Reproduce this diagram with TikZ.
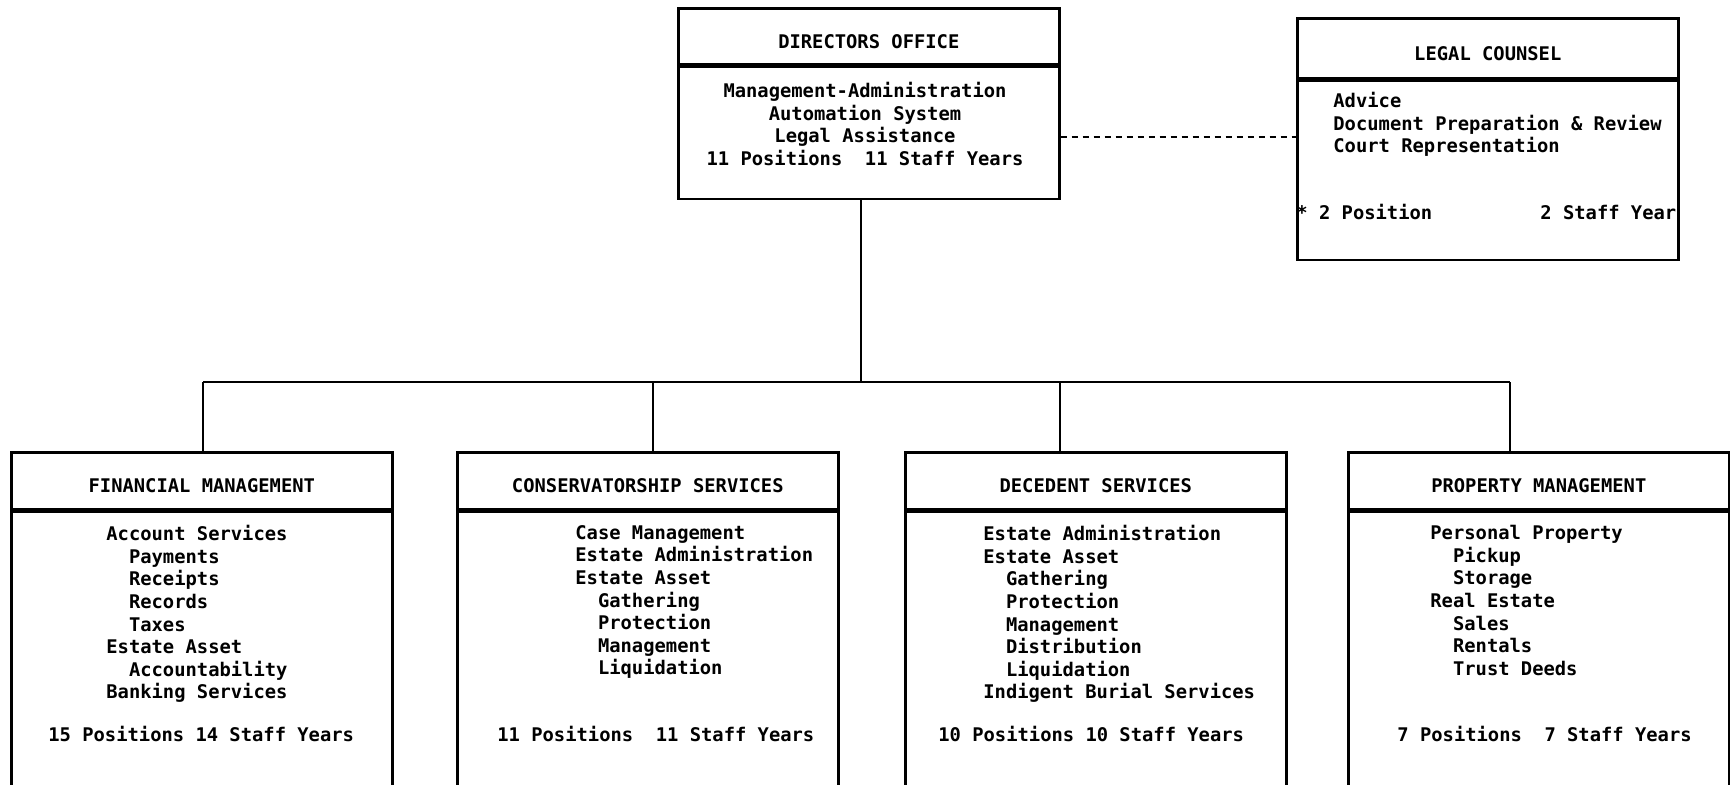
\documentclass[tikz,border=0pt]{standalone}
\usepackage{fontspec}
\newfontfamily\plotfont{DejaVu Sans Mono}
\usetikzlibrary{positioning}
\tikzstyle{head}=[draw, line width=1.3pt, minimum width=190.5pt,
    minimum height=28.5pt, text height=12pt, inner sep=0pt, anchor=north west]
\tikzstyle{body}=[draw, line width=1.3pt, minimum width=190.5pt,
    minimum height=137.5pt, inner sep=0pt]
\tikzstyle{items}=[align=left, inner sep=0pt, anchor=north west]
\tikzstyle{count}=[inner sep=0pt, anchor=west]
\tikzstyle{link}=[line width=1.2pt]
\tikzstyle{dotlink}=[line width=1pt, dash pattern=on 3pt off 2.5pt]
\def\ind{\phantom{xx}}

\begin{document}
\begin{tikzpicture}[x=0.5pt, y=-0.5pt,
    font=\plotfont\bfseries\fontsize{9.4}{11.3}\selectfont]
    \useasboundingbox (0,0) rectangle (1730,784);
    % directors office
    \node (dirh) [head, minimum height=28pt] at (677,7) {DIRECTORS OFFICE};
    \node (dirb) [body, below=0pt of dirh, minimum height=66pt] {};
    \node (dirtx) [align=center, inner sep=0pt, anchor=north] at (865,82)
        {Management-Administration\\Automation System\\Legal Assistance\\
        11 Positions~ 11 Staff Years};
    % legal counsel
    \node (legh) [head, minimum height=30pt] at (1296,17) {LEGAL COUNSEL};
    \node (legb) [body, below=0pt of legh, minimum height=89.5pt] {};
    \node (legtx) [items] at (1333,92)
        {Advice\\Document Preparation \& Review\\Court Representation};
    \node (legpos) [count] at (1296,212) {* 2 Position};
    \node (legsy) [count] at (1540,212) {2 Staff Year};
    % financial management
    \node (finh) [head] at (10,451) {FINANCIAL MANAGEMENT};
    \node (finb) [body, below=0pt of finh] {};
    \node (fintx) [items] at (106,525)
        {Account Services\\\ind Payments\\\ind Receipts\\\ind Records\\
        \ind Taxes\\Estate Asset\\\ind Accountability\\Banking Services};
    \node (finsy) [count] at (48,734) {15 Positions 14 Staff Years};
    % conservatorship services
    \node (conh) [head] at (456,451) {CONSERVATORSHIP SERVICES};
    \node (conb) [body, below=0pt of conh] {};
    \node (contx) [items] at (575,525)
        {Case Management\\Estate Administration\\Estate Asset\\
        \ind Gathering\\\ind Protection\\\ind Management\\\ind Liquidation};
    \node (consy) [count] at (497,734) {11 Positions~ 11 Staff Years};
    % decedent services
    \node (dech) [head] at (904,451) {DECEDENT SERVICES};
    \node (decb) [body, below=0pt of dech] {};
    \node (dectx) [items] at (983,525)
        {Estate Administration\\Estate Asset\\\ind Gathering\\\ind Protection\\
        \ind Management\\\ind Distribution\\\ind Liquidation\\
        Indigent Burial Services};
    \node (decsy) [count] at (938,734) {10 Positions 10 Staff Years};
    % property management
    \node (proh) [head] at (1347,451) {PROPERTY MANAGEMENT};
    \node (prob) [body, below=0pt of proh] {};
    \node (protx) [items] at (1430,525)
        {Personal Property\\\ind Pickup\\\ind Storage\\Real Estate\\
        \ind Sales\\\ind Rentals\\\ind Trust Deeds};
    \node (prosy) [count] at (1397,734) {7 Positions~ 7 Staff Years};
    % connectors
    \coordinate (hub) at (861,382);
    \coordinate (d1) at (203,382);
    \coordinate (d2) at (653,382);
    \coordinate (d3) at (1060,382);
    \coordinate (d4) at (1510,382);
    \coordinate (lnk) at (0,137);
    \draw[link] (hub |- dirb.south) -- (hub);
    \draw[link] (d1) -- (d4);
    \draw[link] (d1) -- (d1 |- finh.north);
    \draw[link] (d2) -- (d2 |- conh.north);
    \draw[link] (d3) -- (d3 |- dech.north);
    \draw[link] (d4) -- (d4 |- proh.north);
    \draw[dotlink] (dirb.east |- lnk) -- (legb.west |- lnk);
\end{tikzpicture}
\end{document}
